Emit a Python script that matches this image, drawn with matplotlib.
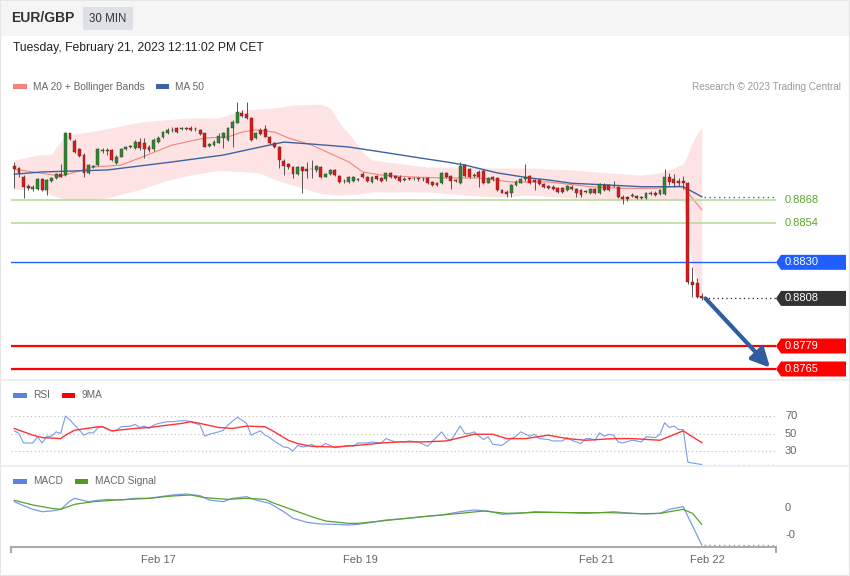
import matplotlib
matplotlib.use("Agg")
import matplotlib.pyplot as plt
import matplotlib.transforms as mtransforms
from matplotlib.patches import Polygon, Rectangle
import numpy as np

# EUR/GBP 30 min candles
opens = [0.88887, 0.88873, 0.88818, 0.88765, 0.88745, 0.88745, 0.88806, 0.88741, 0.88798, 0.88812,
         0.88838, 0.88832, 0.89086, 0.89041, 0.88988, 0.88954, 0.88846, 0.88883, 0.88893, 0.88980,
         0.88980, 0.88984, 0.88907, 0.88944, 0.88988, 0.89003, 0.88995, 0.89035, 0.89025, 0.89001,
         0.88988, 0.89035, 0.89066, 0.89090, 0.89104, 0.89116, 0.89114, 0.89116, 0.89120, 0.89110,
         0.89106, 0.89086, 0.89009, 0.89015, 0.89029, 0.89056, 0.89045, 0.89116, 0.89151, 0.89212,
         0.89204, 0.89177, 0.89056, 0.89106, 0.89110, 0.89066, 0.89025, 0.89001, 0.88919, 0.88899,
         0.88879, 0.88838, 0.88879, 0.88867, 0.88867, 0.88863, 0.88883, 0.88822, 0.88838, 0.88863,
         0.88826, 0.88798, 0.88791, 0.88798, 0.88802, 0.88838, 0.88818, 0.88791, 0.88826, 0.88812,
         0.88806, 0.88842, 0.88826, 0.88822, 0.88810, 0.88812, 0.88812, 0.88810, 0.88806, 0.88812,
         0.88791, 0.88785, 0.88785, 0.88846, 0.88826, 0.88802, 0.88785, 0.88893, 0.88867, 0.88826,
         0.88852, 0.88858, 0.88785, 0.88818, 0.88812, 0.88741, 0.88731, 0.88720, 0.88771, 0.88785,
         0.88806, 0.88826, 0.88802, 0.88802, 0.88776, 0.88766, 0.88762, 0.88751, 0.88751, 0.88741,
         0.88762, 0.88745, 0.88741, 0.88731, 0.88721, 0.88745, 0.88721, 0.88772, 0.88772, 0.88766,
         0.88758, 0.88701, 0.88697, 0.88705, 0.88705, 0.88697, 0.88690, 0.88717, 0.88725, 0.88717,
         0.88717, 0.88823, 0.88806, 0.88798, 0.88798, 0.88786, 0.88183, 0.88173, 0.88095]
highs = [0.88913, 0.88883, 0.88832, 0.88777, 0.88771, 0.88812, 0.88812, 0.88810, 0.88822, 0.88846,
         0.88899, 0.89092, 0.89090, 0.89049, 0.88995, 0.88964, 0.88899, 0.88893, 0.88995, 0.88995,
         0.88995, 0.88988, 0.88954, 0.88995, 0.89009, 0.89015, 0.89045, 0.89056, 0.89056, 0.89015,
         0.89056, 0.89070, 0.89102, 0.89116, 0.89123, 0.89127, 0.89127, 0.89127, 0.89131, 0.89123,
         0.89112, 0.89090, 0.89029, 0.89045, 0.89086, 0.89096, 0.89123, 0.89167, 0.89279, 0.89228,
         0.89279, 0.89188, 0.89096, 0.89116, 0.89137, 0.89070, 0.89035, 0.89009, 0.88928, 0.88907,
         0.88887, 0.88887, 0.88887, 0.88913, 0.88923, 0.88893, 0.88887, 0.88846, 0.88871, 0.88867,
         0.88832, 0.88806, 0.88826, 0.88826, 0.88812, 0.88852, 0.88826, 0.88826, 0.88832, 0.88818,
         0.88852, 0.88850, 0.88832, 0.88830, 0.88818, 0.88822, 0.88822, 0.88818, 0.88818, 0.88818,
         0.88798, 0.88791, 0.88852, 0.88852, 0.88832, 0.88810, 0.88913, 0.88899, 0.88873, 0.88842,
         0.88863, 0.88867, 0.88818, 0.88826, 0.88818, 0.88749, 0.88741, 0.88777, 0.88802, 0.88814,
         0.88899, 0.88832, 0.88810, 0.88810, 0.88786, 0.88774, 0.88770, 0.88758, 0.88758, 0.88774,
         0.88770, 0.88753, 0.88747, 0.88741, 0.88753, 0.88753, 0.88786, 0.88782, 0.88778, 0.88798,
         0.88766, 0.88709, 0.88705, 0.88721, 0.88713, 0.88705, 0.88729, 0.88733, 0.88733, 0.88749,
         0.88867, 0.88843, 0.88839, 0.88812, 0.88827, 0.88792, 0.88270, 0.88203, 0.88116]
lows = [0.88751, 0.88818, 0.88690, 0.88741, 0.88737, 0.88741, 0.88737, 0.88710, 0.88791, 0.88806,
        0.88818, 0.88826, 0.89045, 0.88968, 0.88944, 0.88822, 0.88838, 0.88875, 0.88887, 0.88968,
        0.88954, 0.88919, 0.88899, 0.88940, 0.88984, 0.88995, 0.88988, 0.88984, 0.88934, 0.88974,
        0.88980, 0.89025, 0.89056, 0.89082, 0.89096, 0.89090, 0.89106, 0.89106, 0.89098, 0.89102,
        0.89076, 0.89001, 0.89001, 0.89009, 0.89025, 0.88995, 0.89041, 0.89005, 0.89147, 0.89183,
        0.89171, 0.89041, 0.89049, 0.89076, 0.89062, 0.89021, 0.88995, 0.88873, 0.88832, 0.88871,
        0.88812, 0.88832, 0.88720, 0.88812, 0.88812, 0.88852, 0.88812, 0.88818, 0.88832, 0.88826,
        0.88785, 0.88785, 0.88785, 0.88791, 0.88794, 0.88812, 0.88789, 0.88785, 0.88802, 0.88791,
        0.88798, 0.88812, 0.88806, 0.88791, 0.88796, 0.88802, 0.88802, 0.88798, 0.88798, 0.88775,
        0.88765, 0.88765, 0.88777, 0.88812, 0.88745, 0.88789, 0.88777, 0.88818, 0.88812, 0.88818,
        0.88761, 0.88775, 0.88781, 0.88798, 0.88737, 0.88720, 0.88696, 0.88696, 0.88765, 0.88781,
        0.88798, 0.88775, 0.88741, 0.88771, 0.88751, 0.88745, 0.88741, 0.88725, 0.88725, 0.88735,
        0.88739, 0.88701, 0.88697, 0.88721, 0.88715, 0.88715, 0.88715, 0.88735, 0.88735, 0.88758,
        0.88695, 0.88654, 0.88676, 0.88697, 0.88684, 0.88688, 0.88684, 0.88711, 0.88705, 0.88711,
        0.88711, 0.88772, 0.88762, 0.88766, 0.88745, 0.88168, 0.88091, 0.88081, 0.88071]
closes = [0.88867, 0.88842, 0.88761, 0.88751, 0.88761, 0.88806, 0.88741, 0.88802, 0.88812, 0.88838,
          0.88822, 0.89086, 0.89049, 0.88974, 0.88948, 0.88846, 0.88893, 0.88887, 0.88988, 0.88982,
          0.88980, 0.88923, 0.88944, 0.88988, 0.89001, 0.89005, 0.89035, 0.88995, 0.88988, 0.88984,
          0.89045, 0.89056, 0.89092, 0.89106, 0.89108, 0.89096, 0.89118, 0.89114, 0.89106, 0.89114,
          0.89082, 0.89005, 0.89021, 0.89035, 0.89070, 0.89086, 0.89116, 0.89157, 0.89218, 0.89192,
          0.89177, 0.89045, 0.89086, 0.89082, 0.89066, 0.89025, 0.89001, 0.88923, 0.88887, 0.88879,
          0.88838, 0.88879, 0.88858, 0.88858, 0.88867, 0.88887, 0.88818, 0.88838, 0.88863, 0.88832,
          0.88791, 0.88794, 0.88818, 0.88818, 0.88804, 0.88818, 0.88798, 0.88818, 0.88810, 0.88798,
          0.88842, 0.88818, 0.88812, 0.88798, 0.88802, 0.88810, 0.88814, 0.88808, 0.88806, 0.88781,
          0.88771, 0.88771, 0.88846, 0.88818, 0.88798, 0.88796, 0.88887, 0.88826, 0.88822, 0.88826,
          0.88822, 0.88781, 0.88812, 0.88806, 0.88741, 0.88724, 0.88716, 0.88771, 0.88791, 0.88806,
          0.88818, 0.88781, 0.88791, 0.88777, 0.88758, 0.88751, 0.88747, 0.88731, 0.88731, 0.88766,
          0.88745, 0.88721, 0.88711, 0.88729, 0.88745, 0.88721, 0.88778, 0.88741, 0.88741, 0.88764,
          0.88701, 0.88684, 0.88684, 0.88707, 0.88690, 0.88695, 0.88721, 0.88725, 0.88711, 0.88741,
          0.88823, 0.88792, 0.88786, 0.88782, 0.88786, 0.88183, 0.88162, 0.88091, 0.88080]

# moving averages and Bollinger bands, sampled along the candle index
ma50_idx = [0, 6, 20, 34, 45, 52, 58, 64, 72, 79, 86, 93, 97, 104, 111, 115, 120, 128, 135, 140, 144, 148]
ma50_val = [0.88837, 0.88851, 0.88863, 0.88912, 0.88954, 0.88997, 0.89033, 0.89021, 0.89003, 0.88973,
            0.88942, 0.88912, 0.88893, 0.88845, 0.88814, 0.88802, 0.88782, 0.88771, 0.88761, 0.88761,
            0.88761, 0.88700]
ma20_idx = [0, 10, 17, 23, 27, 34, 41, 46, 49, 52, 56, 59, 64, 72, 75, 79, 86, 93, 100, 107, 115, 124,
            131, 138, 143, 144, 148]
ma20_val = [0.88867, 0.88826, 0.88881, 0.88893, 0.88936, 0.89015, 0.89058, 0.89064, 0.89094, 0.89107,
            0.89094, 0.89058, 0.89015, 0.88912, 0.88851, 0.88832, 0.88820, 0.88814, 0.88814, 0.88790,
            0.88790, 0.88761, 0.88751, 0.88751, 0.88765, 0.88761, 0.88620]
bb_idx = [0, 5, 8, 11, 16, 20, 27, 33, 38, 44, 49, 53, 56, 60, 66, 68, 70, 73, 75, 77, 82, 89, 97, 104,
          111, 120, 128, 135, 139, 142, 144, 145, 146, 147, 148]
bb_upper = [0.88924, 0.88954, 0.88960, 0.89076, 0.89094, 0.89115, 0.89155, 0.89170, 0.89180, 0.89180,
            0.89228, 0.89235, 0.89241, 0.89259, 0.89265, 0.89241, 0.89150, 0.89050, 0.88970, 0.88924,
            0.88905, 0.88881, 0.88881, 0.88875, 0.88875, 0.88863, 0.88845, 0.88832, 0.88845, 0.88875,
            0.88900, 0.88960, 0.89030, 0.89085, 0.89120]
bb_lower = [0.88741, 0.88753, 0.88710, 0.88680, 0.88680, 0.88692, 0.88744, 0.88800, 0.88833, 0.88860,
            0.88853, 0.88843, 0.88805, 0.88770, 0.88720, 0.88715, 0.88710, 0.88715, 0.88720, 0.88729,
            0.88729, 0.88729, 0.88710, 0.88698, 0.88710, 0.88692, 0.88680, 0.88680, 0.88680, 0.88680,
            0.88675, 0.88450, 0.88280, 0.88160, 0.88083]

# key levels on the right
levels = [0.8868, 0.8854, 0.8830, 0.8808, 0.8779, 0.8765]
level_labels = ["0.8868", "0.8854", "0.8830", "0.8808", "0.8779", "0.8765"]
target_level = 0.8765

# RSI and its 9 period MA
rsi_idx = [0, 1, 2, 4, 5, 6, 7, 8, 9, 10, 11, 12, 13, 15, 16, 17, 18, 19, 21, 22, 23, 25, 26, 27, 28,
           29, 30, 31, 33, 34, 36, 37, 38, 40, 41, 42, 44, 45, 46, 47, 48, 49, 50, 51, 52, 53, 54, 55,
           56, 58, 59, 60, 61, 62, 63, 64, 65, 66, 67, 68, 69, 70, 72, 73, 74, 76, 77, 79, 80, 81, 82,
           84, 85, 87, 88, 89, 92, 93, 94, 96, 97, 98, 99, 101, 102, 103, 105, 107, 108, 109, 111, 112,
           113, 115, 116, 118, 119, 120, 122, 123, 124, 125, 126, 127, 128, 129, 130, 131, 133, 134,
           135, 136, 138, 139, 140, 141, 142, 143, 144, 145, 147, 148]
rsi_val = [53.1, 50.0, 39.2, 39.2, 46.2, 39.2, 46.9, 46.9, 51.9, 50.0, 70.0, 65.4, 59.6, 48.1, 50.8,
           50.8, 56.5, 57.7, 52.7, 53.8, 57.7, 58.5, 60.4, 56.9, 58.5, 55.8, 59.6, 61.5, 63.5, 63.5,
           64.6, 64.6, 63.5, 59.6, 46.9, 49.2, 51.9, 53.8, 59.6, 64.2, 68.5, 65.4, 61.5, 48.1, 50.8,
           53.1, 48.1, 45.4, 41.2, 34.6, 33.8, 30.0, 36.5, 34.6, 35.4, 37.7, 34.6, 35.4, 38.5, 36.5,
           33.8, 34.6, 36.5, 35.4, 39.2, 39.2, 40.4, 39.2, 44.2, 42.3, 40.4, 40.4, 41.5, 40.4, 37.7,
           35.4, 51.9, 44.2, 42.3, 58.5, 50.0, 50.0, 51.9, 43.1, 46.2, 37.7, 36.5, 44.2, 46.9, 51.9,
           46.9, 49.2, 44.2, 43.1, 41.5, 41.5, 45.4, 42.3, 38.5, 44.2, 44.2, 42.3, 50.8, 46.9, 49.2,
           48.1, 40.4, 39.2, 42.3, 41.5, 40.4, 46.2, 45.4, 49.2, 62.3, 56.9, 58.5, 54.6, 54.6, 17.3,
           15.4, 14.6]
ma9_idx = [0, 4, 6, 10, 11, 13, 18, 19, 21, 26, 29, 33, 36, 38, 40, 44, 47, 50, 54, 56, 59, 61, 64, 69,
           74, 79, 83, 88, 93, 99, 103, 106, 110, 115, 119, 123, 129, 133, 139, 144, 148]
ma9_val = [55.8, 48.1, 45.4, 44.2, 48.1, 53.8, 57.7, 57.7, 53.1, 55.8, 56.9, 59.6, 61.5, 63.5, 61.5,
           56.9, 55.8, 58.5, 57.7, 51.9, 42.3, 38.5, 35.4, 34.6, 36.5, 39.2, 40.4, 40.4, 41.5, 49.2,
           49.2, 44.2, 44.2, 48.1, 44.2, 42.3, 44.2, 44.2, 42.3, 53.1, 39.6]
rsi_ticks = [70, 50, 30]

# MACD and signal (x 1e-4)
macd_idx = [0, 2, 4, 6, 8, 10, 12, 13, 16, 18, 20, 23, 26, 29, 31, 34, 37, 40, 42, 45, 47, 50, 52, 55,
            58, 60, 63, 66, 69, 72, 74, 77, 80, 83, 86, 88, 92, 96, 99, 102, 105, 109, 112, 116, 119,
            123, 126, 129, 133, 136, 139, 141, 144, 148]
macd_val = [1.17, 0.43, -0.25, -0.68, -0.56, -0.25, 1.30, 1.79, 1.17, 1.42, 1.60, 1.48, 1.79, 1.79,
            2.04, 2.41, 2.59, 2.28, 1.48, 1.17, 1.79, 2.10, 1.48, 0.86, -0.68, -1.91, -2.65, -2.96,
            -3.02, -3.15, -3.02, -2.65, -2.22, -2.04, -1.79, -1.60, -1.30, -0.68, -0.37, -0.56, -1.17,
            -0.99, -0.68, -0.80, -0.86, -0.99, -0.86, -0.68, -0.99, -1.11, -0.99, -0.25, 0.25, -6.85]
sig_idx = [0, 4, 8, 10, 13, 17, 22, 29, 34, 38, 41, 46, 50, 54, 56, 60, 64, 67, 72, 74, 79, 83, 88, 96,
           101, 106, 113, 121, 128, 135, 139, 144, 146, 148]
sig_val = [1.42, 0.56, -0.06, -0.25, 0.68, 1.17, 1.48, 1.79, 2.22, 2.41, 1.91, 1.60, 1.79, 1.60, 0.86,
           -0.37, -1.60, -2.41, -2.84, -2.84, -2.41, -2.04, -1.60, -0.99, -0.56, -0.99, -0.80, -0.86,
           -0.86, -1.05, -0.99, -0.25, -0.99, -3.02]
macd_ticks = [0.0, -5.0]
macd_tick_labels = ["0", "-0"]

date_ticks = [31, 74.6, 125.4, 149.3]
date_labels = ["Feb 17", "Feb 19", "Feb 21", "Feb 22"]

W, H = 850, 576
XMIN, XMAX = -0.71, 163.98

plt.rcParams["font.family"] = ["Liberation Sans", "DejaVu Sans"]


def fig_rect(left, top, right, bottom):
    return [left / W, 1 - bottom / H, (right - left) / W, (bottom - top) / H]


def ftext(px, py, s, **kw):
    fig.text(px / W, 1 - py / H, s, **kw)


def frect(x0, y0, x1, y1, color):
    fig.patches.append(Rectangle((x0 / W, 1 - y1 / H), (x1 - x0) / W, (y1 - y0) / H,
                                 transform=fig.transFigure, facecolor=color, edgecolor="none", zorder=0))


def bare(ax):
    ax.set_xlim(XMIN, XMAX)
    ax.patch.set_alpha(0)
    for s in ax.spines.values():
        s.set_visible(False)
    ax.set_xticks([])
    ax.set_yticks([])


fig = plt.figure(figsize=(8.5, 5.76), dpi=100)

# header and panel frames
frect(0, 0, 850, 36, "#f5f5f5")
frect(0, 379, 850, 381, "#eceff2")
frect(0, 465, 850, 467, "#eceff2")
frect(83, 7, 133, 30, "#dde0e5")
ftext(11, 18.5, "EUR/GBP", fontsize=10, fontweight="bold", color="#333333", va="center")
ftext(108, 18.5, "30 MIN", fontsize=8.3, color="#333333", va="center", ha="center")
ftext(13, 48.5, "Tuesday, February 21, 2023 12:11:02 PM CET", fontsize=8.7, color="#222222", va="center")

# legends
frect(13, 84, 27, 88.5, "#f4837d")
ftext(33, 86.5, "MA 20 + Bollinger Bands", fontsize=7.25, color="#666666", va="center")
frect(156, 84, 169, 88.5, "#3d62a3")
ftext(175, 86.5, "MA 50", fontsize=7.25, color="#666666", va="center")
ftext(841, 86.5, "Research \u00a9 2023 Trading Central", fontsize=7.2, color="#9a9a9a", va="center", ha="right")
frect(13, 393, 27, 397.5, "#5b82e0")
ftext(33, 395.5, "RSI", fontsize=7.25, color="#666666", va="center")
frect(62, 393, 75, 397.5, "#ff0000")
ftext(82, 395.5, "9MA", fontsize=7.25, color="#666666", va="center")
frect(13, 479, 27, 483.5, "#5b82e0")
ftext(33, 481.5, "MACD", fontsize=7.25, color="#666666", va="center")
frect(75, 479, 88, 483.5, "#4f9a1f")
ftext(95, 481.5, "MACD Signal", fontsize=7.25, color="#666666", va="center")

# ---- main price panel
ax = fig.add_axes(fig_rect(11, 95, 776, 378))
bare(ax)
ax.set_ylim(0.87595, 0.89320)

ax.fill_between(bb_idx, bb_lower, bb_upper, color="#fde3e3", lw=0, zorder=1)
ax.plot(ma20_idx, ma20_val, color="#f4837d", lw=0.8, zorder=2)
ax.plot(ma50_idx, ma50_val, color="#3d62a3", lw=1.0, zorder=2)

o = np.array(opens)
c = np.array(closes)
x = np.arange(len(c))
up = c >= o
ax.vlines(x, lows, highs, color="#555555", lw=0.7, zorder=3)
body_h = np.maximum(np.abs(c - o), 0.00004)
ax.bar(x, body_h, bottom=np.minimum(o, c), width=0.62,
       color=np.where(up, "#2a8a2a", "#e81414"), edgecolor="#3a3a3a", lw=0.3, zorder=4)

last_x = x[-1] + 0.4
ax.plot([last_x, XMAX], [ma50_val[-1]] * 2, color="#3d62a3", lw=1.0, ls=(0, (1, 2.5)), zorder=2)
ax.plot([last_x, XMAX], [levels[3]] * 2, color="#222222", lw=0.9, ls=(0, (1, 2.5)), zorder=2)

level_colors = ["#b7dd9c", "#b7dd9c", "#1f5fff", None, "#ff0000", "#ff0000"]
level_lw = [1.2, 1.2, 1.0, 0, 1.6, 1.6]
for lv, col, lw in zip(levels, level_colors, level_lw):
    if col:
        ax.axhline(lv, color=col, lw=lw, zorder=2)

# right-hand level labels
blend = mtransforms.blended_transform_factory(fig.transFigure, ax.transData)
half = 7.5 / 16410
box_colors = [None, None, "#1f5fff", "#333333", "#ff0000", "#ff0000"]
for lv, lab, bc in zip(levels, level_labels, box_colors):
    if bc is None:
        ax.text(785 / W, lv, lab, transform=blend, fontsize=8, color="#5ea52a", va="center", clip_on=False)
    else:
        pts = [(776 / W, lv), (781 / W, lv + half), (846 / W, lv + half), (846 / W, lv - half), (781 / W, lv - half)]
        ax.add_patch(Polygon(pts, closed=True, transform=blend, facecolor=bc, edgecolor="none", clip_on=False))
        ax.text(785 / W, lv, lab, transform=blend, fontsize=8, color="white", va="center", clip_on=False)

# projected move
ax.annotate("", xy=(162.7, target_level + 0.00008), xytext=(x[-1] + 0.8, closes[-1]),
            arrowprops=dict(arrowstyle="-|>,head_width=0.55,head_length=1.1", color="#2f5d9e",
                            lw=3, mutation_scale=10, shrinkA=0, shrinkB=0), zorder=5)

# ---- RSI panel
ax_r = fig.add_axes(fig_rect(11, 400, 776, 466))
bare(ax_r)
ax_r.set_ylim(12.9, 88.3)
rblend = mtransforms.blended_transform_factory(fig.transFigure, ax_r.transData)
for t in rsi_ticks:
    ax_r.axhline(t, color="#bbbbbb", lw=0.8, ls=(0, (1, 2.5)))
    ax_r.text(785 / W, t, str(t), transform=rblend, fontsize=8, color="#666666", va="center")
ax_r.plot(rsi_idx, rsi_val, color="#7b9be8", lw=0.8)
ax_r.plot(ma9_idx, ma9_val, color="#ff3333", lw=1.0)
ax_r.plot([last_x, XMAX], [rsi_val[-1]] * 2, color="#7b9be8", lw=1.0, ls=(0, (1, 2.5)))

# ---- MACD panel
ax_m = fig.add_axes(fig_rect(11, 475, 776, 547))
bare(ax_m)
ax_m.set_ylim(-7.22, 6.11)
ax_m.plot(macd_idx, macd_val, color="#7b9be8", lw=0.9)
ax_m.plot(sig_idx, sig_val, color="#5aa02c", lw=0.9)
ax_m.plot([last_x, XMAX], [macd_val[-1]] * 2, color="#7b9be8", lw=1.0, ls=(0, (1, 2.5)))
mblend = mtransforms.blended_transform_factory(fig.transFigure, ax_m.transData)
for t, lab in zip(macd_ticks, macd_tick_labels):
    ax_m.text(785 / W, t, lab, transform=mblend, fontsize=8, color="#666666", va="center")

ax_m.spines["bottom"].set_visible(True)
ax_m.spines["bottom"].set_color("#aaaaaa")
ax_m.spines["bottom"].set_linewidth(1.5)
ax_m.set_xticks(date_ticks)
ax_m.set_xticklabels(date_labels, fontsize=8, color="#666666")
ax_m.tick_params(axis="x", length=0, pad=6)
for xe in (0, 1):
    ax_m.plot([xe, xe], [0, -0.07], transform=ax_m.transAxes, color="#aaaaaa", lw=1.5, clip_on=False)

# outer frame
fig.patches.append(Rectangle((0, 0), 1, 1, transform=fig.transFigure, fill=False,
                             edgecolor="#e6e6e6", lw=1.5, zorder=10))

fig.savefig("out.png", dpi=100)
